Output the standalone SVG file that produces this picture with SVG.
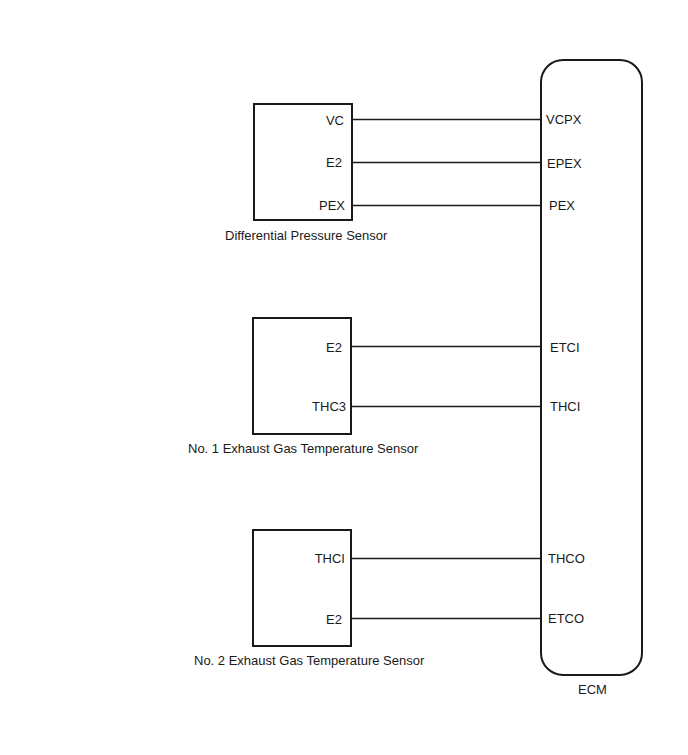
<svg xmlns="http://www.w3.org/2000/svg" width="688" height="755" viewBox="0 0 688 755">
<style>
.box{fill:#fff;stroke:#1a1a1a;stroke-width:2}
.w{stroke:#1a1a1a;stroke-width:1.3;fill:none}
text{font-family:"Liberation Sans",Arial,sans-serif;font-size:13px;fill:#1a1a1a}
.r{text-anchor:end}
.m{text-anchor:middle}
</style>
<rect width="688" height="755" fill="#fff"/>
<g id="connectors">
<line class="w" x1="352" y1="119.5" x2="541" y2="119.5"/>
<line class="w" x1="352" y1="162.5" x2="541" y2="162.5"/>
<line class="w" x1="352" y1="205.5" x2="541" y2="205.5"/>
<line class="w" x1="351" y1="346.5" x2="541" y2="346.5"/>
<line class="w" x1="351" y1="406.5" x2="541" y2="406.5"/>
<line class="w" x1="351" y1="558.5" x2="541" y2="558.5"/>
<line class="w" x1="351" y1="618.5" x2="541" y2="618.5"/>
</g>
<g id="ecm">
<rect class="box" x="541" y="60" width="101" height="615" rx="22" ry="22"/>
<text x="546" y="124">VCPX</text>
<text x="547" y="168">EPEX</text>
<text x="549" y="210">PEX</text>
<text x="550" y="352">ETCI</text>
<text x="550" y="411">THCI</text>
<text x="548" y="563">THCO</text>
<text x="548" y="623">ETCO</text>
<text class="m" x="592.5" y="694">ECM</text>
</g>
<g id="diff-pressure-sensor">
<rect class="box" x="254" y="104" width="98" height="116"/>
<text class="r" x="344" y="125">VC</text>
<text class="r" x="342" y="167">E2</text>
<text class="r" x="345" y="210">PEX</text>
<text x="225" y="240">Differential Pressure Sensor</text>
</g>
<g id="exhaust-temp-sensor-1">
<rect class="box" x="253" y="318" width="98" height="116"/>
<text class="r" x="342" y="352">E2</text>
<text class="r" x="346" y="411">THC3</text>
<text x="188" y="453">No. 1 Exhaust Gas Temperature Sensor</text>
</g>
<g id="exhaust-temp-sensor-2">
<rect class="box" x="253" y="530" width="98" height="116"/>
<text class="r" x="345" y="563">THCI</text>
<text class="r" x="342" y="624">E2</text>
<text x="194" y="665">No. 2 Exhaust Gas Temperature Sensor</text>
</g>
</svg>
